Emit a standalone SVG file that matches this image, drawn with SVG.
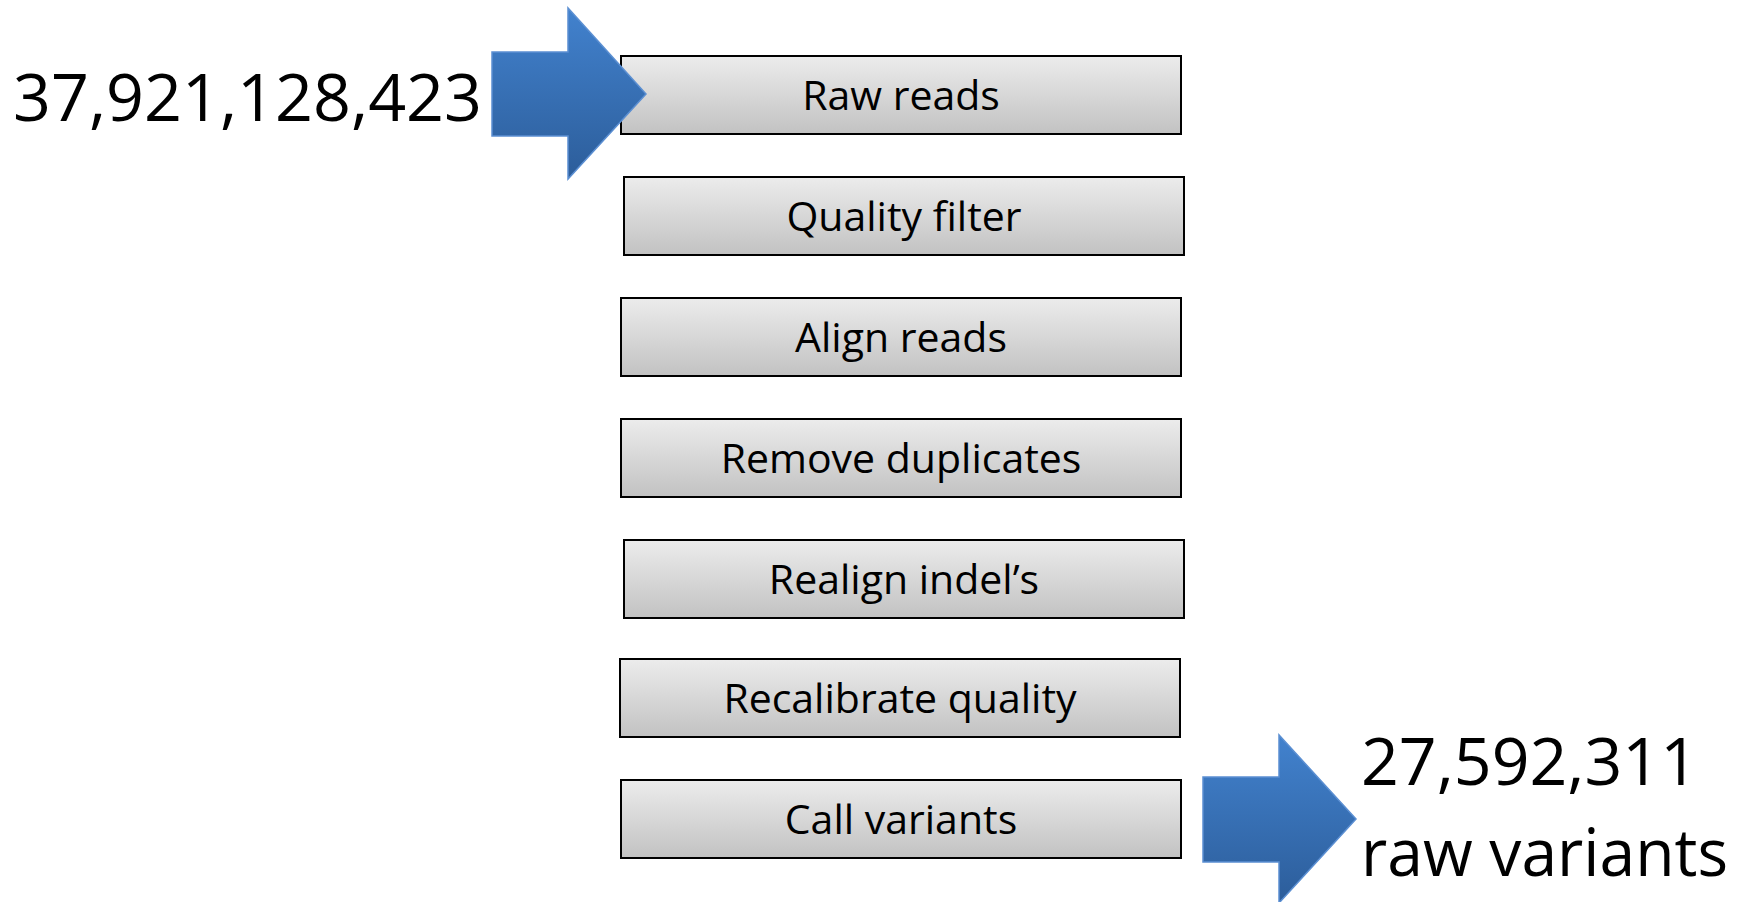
<svg xmlns="http://www.w3.org/2000/svg" width="1742" height="902" viewBox="0 0 1742 902">
  <defs>
    <linearGradient id="boxGrad" x1="0" y1="0" x2="0" y2="1">
      <stop offset="0" stop-color="#ececec"/>
      <stop offset="1" stop-color="#c2c2c2"/>
    </linearGradient>
    <linearGradient id="arrowGrad" x1="0" y1="0" x2="0" y2="1">
      <stop offset="0" stop-color="#4282ce"/>
      <stop offset="1" stop-color="#2c5d9a"/>
    </linearGradient>
    <style>
      .box { fill: url(#boxGrad); stroke: #000; stroke-width: 2; }
      .lbl { font-family: "Open Sans", "Liberation Sans", sans-serif; font-size: 41px; fill: #000; text-anchor: middle; }
      .big { font-family: "Open Sans", "Liberation Sans", sans-serif; font-size: 66px; fill: #000; }
      .arrow { fill: url(#arrowGrad); stroke: #5b8fd2; stroke-width: 1.5; stroke-linejoin: miter; }
    </style>
  </defs>
  <rect width="1742" height="902" fill="#ffffff"/>

  <g id="node-raw-reads">
    <rect class="box" x="621" y="56" width="560" height="78"/>
    <text class="lbl" x="901" y="110">Raw reads</text>
  </g>
  <g id="node-quality-filter">
    <rect class="box" x="624" y="177" width="560" height="78"/>
    <text class="lbl" x="904" y="231">Quality filter</text>
  </g>
  <g id="node-align-reads">
    <rect class="box" x="621" y="298" width="560" height="78"/>
    <text class="lbl" x="901" y="352">Align reads</text>
  </g>
  <g id="node-remove-duplicates">
    <rect class="box" x="621" y="419" width="560" height="78"/>
    <text class="lbl" x="901" y="473">Remove duplicates</text>
  </g>
  <g id="node-realign-indels">
    <rect class="box" x="624" y="540" width="560" height="78"/>
    <text class="lbl" x="904" y="594">Realign indel’s</text>
  </g>
  <g id="node-recalibrate-quality">
    <rect class="box" x="620" y="659" width="560" height="78"/>
    <text class="lbl" x="900" y="713">Recalibrate quality</text>
  </g>
  <g id="node-call-variants">
    <rect class="box" x="621" y="780" width="560" height="78"/>
    <text class="lbl" x="901" y="834">Call variants</text>
  </g>

  <g id="input-count">
    <text class="big" x="13" y="121" textLength="469" lengthAdjust="spacingAndGlyphs">37,921,128,423</text>
  </g>
  <g id="output-count">
    <text class="big" x="1361" y="785" textLength="337" lengthAdjust="spacingAndGlyphs">27,592,311</text>
    <text class="big" x="1361" y="876" textLength="367" lengthAdjust="spacingAndGlyphs">raw variants</text>
  </g>

  <g id="connectors">
    <polygon class="arrow" points="492,52 568,52 568,8 646,94 568,179 568,136 492,136"/>
    <polygon class="arrow" points="1203,777 1279,777 1279,735 1356,819 1279,903 1279,862 1203,862"/>
  </g>
</svg>
